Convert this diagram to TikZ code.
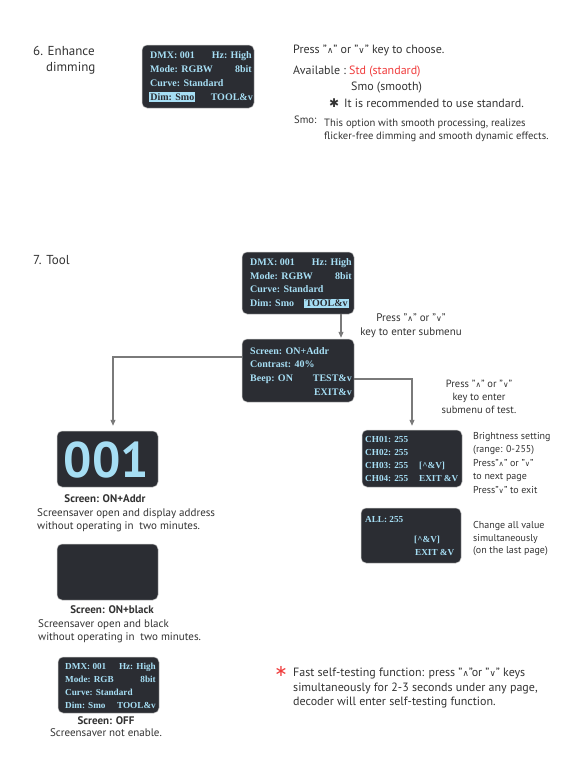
\documentclass[tikz,border=0pt]{standalone}
\usepackage{fontspec}
\setmainfont{PT Sans}
\newfontfamily\scrfont{Liberation Serif}
\newfontfamily\dvs{DejaVu Sans}
\usetikzlibrary{arrows.meta}
\definecolor{scrbg}{HTML}{2B2D33}
\definecolor{scrtxt}{HTML}{A6DEF4}
\definecolor{hlbg}{HTML}{A6DEF4}
\definecolor{txtc}{HTML}{333333}
\definecolor{conncol}{HTML}{7A7A7A}
\definecolor{redc}{HTML}{F03C3C}
\newcommand{\upk}{{\dvs\fontsize{0.72em}{1em}\selectfont ∧}}
\newcommand{\dnk}{{\dvs\fontsize{0.72em}{1em}\selectfont ∨}}
\tikzset{
  screen/.style={fill=scrbg, draw=gray!45, line width=0.5pt, rounded corners=5pt, inner sep=0pt},
  st/.style={font=\scrfont\bfseries\fontsize{10}{10}\selectfont, text=scrtxt, inner sep=0pt},
  sts/.style={font=\scrfont\bfseries\fontsize{9.2}{9.2}\selectfont, text=scrtxt, inner sep=0pt},
  hl/.style={fill=hlbg, text=scrbg, inner sep=1.2pt},
  txt/.style={font=\fontsize{10}{12}\selectfont, text=txtc, inner sep=0pt},
  txtl/.style={font=\fontsize{12}{14}\selectfont, text=txtc, inner sep=0pt},
  txtm/.style={font=\fontsize{11}{13}\selectfont, text=txtc, inner sep=0pt},
  txtmb/.style={font=\bfseries\fontsize{11}{13}\selectfont, text=txtc, inner sep=0pt},
  txts/.style={font=\fontsize{10.6}{12}\selectfont, text=txtc, inner sep=0pt},
  ttl/.style={font=\fontsize{13}{15}\selectfont, text=txtc, inner sep=0pt, anchor=mid west},
  conn/.style={draw=conncol, line width=1.1pt, -{Triangle[length=6pt,width=5pt]}},
}
\begin{document}
\begin{tikzpicture}[x=1pt,y=-1pt]
\useasboundingbox (0,0) rectangle (570,758);
\fill[white] (0,0) rectangle (570,758);

% ---------- Section 6 ----------
\node[ttl] (t6a) at (33,53) {6. Enhance};
\node[ttl] (t6b) at (46,69) {dimming};

\node[screen, minimum width=112pt, minimum height=63pt] (s1) at (198,76.5) {};
\node[st, anchor=mid west] (s1a) at (150,56) {DMX: 001};
\node[st, anchor=mid east] (s1b) at (252,56) {Hz: High};
\node[st, anchor=mid west] (s1c) at (150,70) {Mode: RGBW};
\node[st, anchor=mid east] (s1d) at (252,70) {8bit};
\node[st, anchor=mid west] (s1e) at (150,84) {Curve: Standard};
\node[st, hl, anchor=mid west] (s1f) at (149,98) {Dim: Smo};
\node[st, anchor=mid east] (s1g) at (253,98) {TOOL\&v};

\node[txtl, anchor=mid west] (p1) at (293,51) {Press "\upk" or "\dnk" key to choose.};
\node[txtl, anchor=mid west] (av) at (293,72) {Available :};
\node[txtl, anchor=mid west, text=redc] (std) at (349,72) {Std (standard)};
\node[txtl, anchor=mid west] (smo) at (351,88) {Smo (smooth)};
\node[txtl, anchor=mid west] (ast) at (329,105) {{\dvs\fontsize{12}{12}\selectfont ✱}};
\node[txtl, anchor=mid west] (rec) at (344,105) {It is recommended to use standard.};
\node[txts, anchor=mid west] (smol) at (294,121) {Smo:};
\node[txts, anchor=mid west] (smo1) at (324,124) {This option with smooth processing, realizes};
\node[txts, anchor=mid west] (smo2) at (324,137) {flicker-free dimming and smooth dynamic effects.};

% ---------- Section 7 ----------
\node[ttl] (t7) at (33,262) {7. Tool};

\node[screen, minimum width=112pt, minimum height=62pt] (s2) at (298,283) {};
\node[st, anchor=mid west] (s2a) at (250,263) {DMX: 001};
\node[st, anchor=mid east] (s2b) at (352,263) {Hz: High};
\node[st, anchor=mid west] (s2c) at (250,277) {Mode: RGBW};
\node[st, anchor=mid east] (s2d) at (352,277) {8bit};
\node[st, anchor=mid west] (s2e) at (250,290) {Curve: Standard};
\node[st, anchor=mid west] (s2f) at (250,304) {Dim: Smo};
\node[st, hl, anchor=mid east] (s2g) at (349,304) {TOOL\&v};

\node[screen, minimum width=112pt, minimum height=63pt] (s3) at (298,370.5) {};
\node[st, anchor=mid west] (s3a) at (250,352) {Screen: ON+Addr};
\node[st, anchor=mid west] (s3b) at (250,365) {Contrast: 40\%};
\node[st, anchor=mid west] (s3c) at (250,379) {Beep: ON};
\node[st, anchor=mid east] (s3d) at (352,379) {TEST\&v};
\node[st, anchor=mid east] (s3e) at (352,393) {EXIT\&v};

\draw[conn, shorten >=1pt] ([xshift=43pt]s2.south) -- ([xshift=43pt]s3.north);
\node[txtm, anchor=mid] (n1a) at (411,319) {Press "\upk" or "\dnk"};
\node[txtm, anchor=mid] (n1b) at (411,333) {key to enter submenu};

% screensaver 001
\node[screen, minimum width=101pt, minimum height=56pt] (addr) at (107.5,459) {};
\node[font=\bfseries\fontsize{50}{50}\selectfont, text=scrtxt, inner sep=0pt] (addrn) at (106.5,460) {001};
\node[txtmb, anchor=mid] (addrt) at (105,500) {Screen: ON+Addr};
\node[txtm, anchor=mid west] (addr1) at (37,514) {Screensaver open and display address};
\node[txtm, anchor=mid west] (addr2) at (37,527) {without operating in\ \ two minutes.};

\draw[conn, shorten >=5pt] ([yshift=13.5pt]s3.west) -| ([xshift=5.5pt]addr.north);

% screensaver black
\node[screen, minimum width=101pt, minimum height=56pt] (blk) at (107.5,572) {};
\node[txtmb, anchor=mid] (blkt) at (112,611) {Screen: ON+black};
\node[txtm, anchor=mid west] (blk1) at (38,625) {Screensaver open and black};
\node[txtm, anchor=mid west] (blk2) at (38,638) {without operating in\ \ two minutes.};

% screen off
\node[screen, minimum width=101pt, minimum height=56pt] (off) at (108.5,685) {};
\node[sts, anchor=mid west] (offa) at (65,667) {DMX: 001};
\node[sts, anchor=mid east] (offb) at (156,667) {Hz: High};
\node[sts, anchor=mid west] (offc) at (65,680) {Mode: RGB};
\node[sts, anchor=mid east] (offd) at (156,680) {8bit};
\node[sts, anchor=mid west] (offe) at (65,693) {Curve: Standard};
\node[sts, anchor=mid west] (offf) at (65,706) {Dim: Smo};
\node[sts, anchor=mid east] (offg) at (156,706) {TOOL\&v};
\node[txtmb, anchor=mid] (offt) at (106,722) {Screen: OFF};
\node[txtm, anchor=mid] (off1) at (106,734) {Screensaver not enable.};

% test submenu
\node[screen, minimum width=100pt, minimum height=57pt] (ch) at (412,458.5) {};
\node[sts, anchor=mid west] (ch1) at (365,440) {CH01: 255};
\node[sts, anchor=mid west] (ch2) at (365,453) {CH02: 255};
\node[sts, anchor=mid west] (ch3) at (365,466) {CH03: 255};
\node[sts, anchor=mid west] (ch3b) at (419,466) {[\^{}\&V]};
\node[sts, anchor=mid west] (ch4) at (365,479) {CH04: 255};
\node[sts, anchor=mid west] (ch4b) at (419,479) {EXIT \&V};

\draw[conn, shorten >=4pt] ([yshift=-8.5pt]s3.east) -| (ch.north);
\node[txt, font=\fontsize{10.5}{12}\selectfont, anchor=mid] (n2a) at (479,385) {Press "\upk" or "\dnk"};
\node[txt, font=\fontsize{10.5}{12}\selectfont, anchor=mid] (n2b) at (479,398) {key to enter};
\node[txt, font=\fontsize{10.5}{12}\selectfont, anchor=mid] (n2c) at (479,411) {submenu of test.};

\node[txt, anchor=mid west] (b1) at (473,437) {Brightness setting};
\node[txt, anchor=mid west] (b2) at (473,450) {(range: 0-255)};
\node[txt, anchor=mid west] (b3) at (473,464) {Press"\upk" or "\dnk"};
\node[txt, anchor=mid west] (b4) at (473,477) {to next page};
\node[txt, anchor=mid west] (b5) at (473,491) {Press"\dnk" to exit};

\node[screen, minimum width=100pt, minimum height=55pt] (all) at (411,535.5) {};
\node[sts, anchor=mid west] (all1) at (365,520) {ALL: 255};
\node[sts, anchor=mid west] (all2) at (414,540) {[\^{}\&V]};
\node[sts, anchor=mid west] (all3) at (415,553) {EXIT \&V};

\node[txt, anchor=mid west] (c1) at (473,526) {Change all value};
\node[txt, anchor=mid west] (c2) at (473,539) {simultaneously};
\node[txt, anchor=mid west] (c3) at (473,551) {(on the last page)};

% fast self-test
\node[txt, anchor=mid, text=redc] (fa) at (281,674) {{\dvs\fontsize{16}{16}\selectfont ∗}};
\node[txtl, anchor=mid west] (f1) at (293,674) {Fast self-testing function: press "\upk"or "\dnk" keys};
\node[txtl, anchor=mid west] (f2) at (293,689) {simultaneously for 2-3 seconds under any page,};
\node[txtl, anchor=mid west] (f3) at (293,703) {decoder will enter self-testing function.};
\end{tikzpicture}
\end{document}
